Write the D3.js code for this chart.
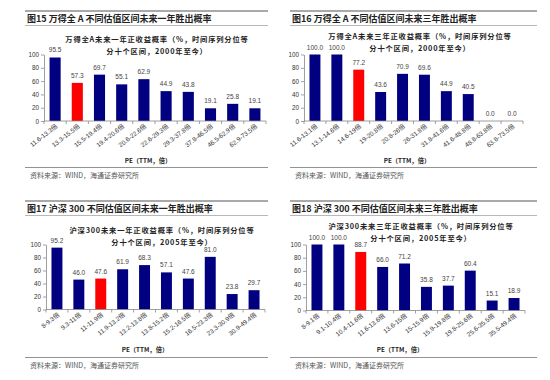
<!DOCTYPE html>
<html>
<head>
<meta charset="utf-8">
<script src="https://cdn.jsdelivr.net/npm/d3@7"></script>
<style>
  body { margin: 0; background: #fff; }
  svg { display: block; font-family: "Liberation Sans", Arial, "Noto Sans CJK SC", sans-serif; }
  .figTitle { font-family: "Noto Sans CJK SC", sans-serif; font-weight: bold; font-size: 9px; fill: #222; }
  .chartTitle { font-family: "Noto Sans CJK SC", sans-serif; font-weight: bold; font-size: 7.3px; letter-spacing: 0.8px; fill: #222; }
  .src { font-family: "Noto Sans CJK SC", sans-serif; font-size: 7px; fill: #555; }
  .axis text { font-size: 6.3px; fill: #333; }
  .axis path, .axis line { stroke: #888; stroke-width: 0.8; }
  .val { font-size: 6.5px; fill: #444; text-anchor: middle; }
  .cat { font-family: "Liberation Sans", "Noto Sans CJK SC", sans-serif; font-size: 6.4px; fill: #333; }
  .xTitle { font-family: "Noto Sans CJK SC", sans-serif; font-weight: bold; font-size: 6.3px; fill: #222; }
</style>
</head>
<body>
<div id="chart"></div>
<script>
//categories (PE intervals) per figure
var cats15 = ["11.6-13.3倍", "13.3-15.5倍", "15.5-19.4倍", "19.4-20.6倍", "20.6-22.6倍", "22.6-29.3倍", "29.3-37.8倍", "37.8-46.5倍", "46.5-62.9倍", "62.9-73.5倍"],
    cats16 = ["11.6-13.1倍", "13.1-14.6倍", "14.6-19倍", "19-20.8倍", "20.8-26倍", "26-31.8倍", "31.8-41.6倍", "41.6-48.8倍", "48.8-63.8倍", "63.8-73.5倍"],
    cats17 = ["8-9.3倍", "9.3-11倍", "11-11.9倍", "11.9-13.2倍", "13.2-13.8倍", "13.8-15.2倍", "15.2-16.5倍", "16.5-23.3倍", "23.3-30.9倍", "30.9-49.4倍"],
    cats18 = ["8-9.1倍", "9.1-10.4倍", "10.4-11.6倍", "11.6-13.6倍", "13.6-15倍", "15-15.9倍", "15.9-19.8倍", "19.8-25.6倍", "25.6-35.5倍", "35.5-49.4倍"];

//positive-return probabilities (%)
var vals15 = [95.5, 57.3, 69.7, 55.1, 62.9, 44.9, 43.8, 19.1, 25.8, 19.1],
    vals16 = [100.0, 100.0, 77.2, 43.6, 70.9, 69.6, 44.9, 40.5, 0.0, 0.0],
    vals17 = [95.2, 46.0, 47.6, 61.9, 68.3, 57.1, 47.6, 81.0, 23.8, 29.7],
    vals18 = [100.0, 100.0, 88.7, 66.0, 71.2, 35.8, 37.7, 60.4, 15.1, 18.9];

//current interval (drawn red)
var current = [1, 2, 2, 2];

var yTicks = [0, 20, 40, 60, 80, 100];

var figTitles = ["图15 万得全 A 不同估值区间未来一年胜出概率", "图16 万得全 A 不同估值区间未来三年胜出概率",
                 "图17 沪深 300 不同估值区间未来一年胜出概率", "图18 沪深 300 不同估值区间未来三年胜出概率"],
    chartTitles1 = ["万得全A未来一年正收益概率（%，时间序列分位等", "万得全A未来三年正收益概率（%，时间序列分位等",
                    "沪深300未来一年正收益概率（%，时间序列分位等", "沪深300未来三年正收益概率（%，时间序列分位等"],
    chartTitles2 = ["分十个区间，2000年至今）", "分十个区间，2000年至今）", "分十个区间，2005年至今）", "分十个区间，2005年至今）"],
    xTitle = "PE（TTM，倍）",
    source = "资料来源：WIND，海通证券研究所";

var allCats = [cats15, cats16, cats17, cats18],
    allVals = [vals15, vals16, vals17, vals18];

//panel frames
var panels = [
    {left: 44,  right: 266, y0: 121,   y100: 54.5,  lineL: 25,  lineR: 268, tcx: 157, t1: 41.5,  t2: 54,    xt: 148},
    {left: 304, right: 523, y0: 121,   y100: 54.5,  lineL: 290, lineR: 537, tcx: 420, t1: 38.5,  t2: 51,    xt: 407},
    {left: 46,  right: 265, y0: 309.5, y100: 244.5, lineL: 25,  lineR: 268, tcx: 162, t1: 233,   t2: 244.5, xt: 145},
    {left: 306, right: 525, y0: 310.5, y100: 244.5, lineL: 290, lineR: 537, tcx: 421, t1: 228.5, t2: 241,   xt: 400}
];
var rowY = [0, 190];

var svg = d3.select("#chart")
    .append("svg")
    .attr("width", 550)
    .attr("height", 380);

panels.forEach(function(p, i) {
    var oy = rowY[Math.floor(i / 2)],
        cats = allCats[i],
        vals = allVals[i],
        g = svg.append("g");

    //frame lines and figure title
    g.append("line").attr("x1", p.lineL).attr("x2", p.lineR).attr("y1", oy + 11).attr("y2", oy + 11)
        .attr("stroke", "#555").attr("stroke-width", 1.2);
    g.append("line").attr("x1", p.lineL).attr("x2", p.lineR).attr("y1", oy + 25.5).attr("y2", oy + 25.5)
        .attr("stroke", "#999").attr("stroke-width", 0.7);
    g.append("text").attr("class", "figTitle").attr("x", p.lineL + 2).attr("y", oy + 22).text(figTitles[i]);
    g.append("line").attr("x1", p.lineL).attr("x2", p.lineR).attr("y1", oy + 167.5).attr("y2", oy + 167.5)
        .attr("stroke", "#777").attr("stroke-width", 0.8);
    g.append("text").attr("class", "src").attr("x", p.lineL + 5).attr("y", oy + 177.5).text(source);

    //chart title
    g.append("text").attr("class", "chartTitle").attr("x", p.tcx).attr("y", p.t1)
        .style("text-anchor", "middle").text(chartTitles1[i]);
    g.append("text").attr("class", "chartTitle").attr("x", p.tcx).attr("y", p.t2)
        .style("text-anchor", "middle").text(chartTitles2[i]);

    var x = d3.scaleBand()
        .domain(cats)
        .range([p.left, p.right])
        .paddingInner(0.5)
        .paddingOuter(0.25);

    var y = d3.scaleLinear()
        .domain([0, 100])
        .range([p.y0, p.y100]);

    //y axis
    g.append("g")
        .attr("class", "axis")
        .attr("transform", "translate(" + p.left + ",0)")
        .call(d3.axisLeft(y).tickValues(yTicks).tickSize(3).tickPadding(2).tickSizeOuter(0));

    //bars
    g.selectAll("rect.bar")
        .data(vals)
        .enter()
        .append("rect")
        .attr("class", "bar")
        .attr("x", function(d, j) { return x(cats[j]); })
        .attr("y", function(d) { return y(d); })
        .attr("width", x.bandwidth())
        .attr("height", function(d) { return p.y0 - y(d); })
        .style("fill", function(d, j) { return j === current[i] ? "#FF0000" : "#000080"; });

    //value labels
    g.selectAll("text.val")
        .data(vals)
        .enter()
        .append("text")
        .attr("class", "val")
        .attr("x", function(d, j) { return x(cats[j]) + x.bandwidth() / 2; })
        .attr("y", function(d) { return y(d) - 5; })
        .text(function(d) { return d.toFixed(1); });

    //x axis line with ticks at band edges
    var edges = d3.range(cats.length + 1).map(function(k) { return p.left + k * (p.right - p.left) / cats.length; });
    g.append("line").attr("x1", p.left).attr("x2", p.right).attr("y1", p.y0).attr("y2", p.y0)
        .attr("stroke", "#888").attr("stroke-width", 0.8);
    g.selectAll("line.xt")
        .data(edges)
        .enter()
        .append("line")
        .attr("class", "xt")
        .attr("x1", function(d) { return d; }).attr("x2", function(d) { return d; })
        .attr("y1", p.y0).attr("y2", p.y0 + 3)
        .attr("stroke", "#888").attr("stroke-width", 0.8);

    //category labels
    g.selectAll("text.cat")
        .data(cats)
        .enter()
        .append("text")
        .attr("class", "cat")
        .attr("text-anchor", "end")
        .attr("transform", function(d) {
            return "translate(" + (x(d) + x.bandwidth() / 2 + 3) + "," + (p.y0 + 6) + ") rotate(-38)";
        })
        .text(function(d) { return d; });

    //x axis title
    g.append("text").attr("class", "xTitle").attr("x", p.xt).attr("y", oy + (i < 2 ? 162.5 : 161.5))
        .style("text-anchor", "middle").text(xTitle);
});
</script>
</body>
</html>
